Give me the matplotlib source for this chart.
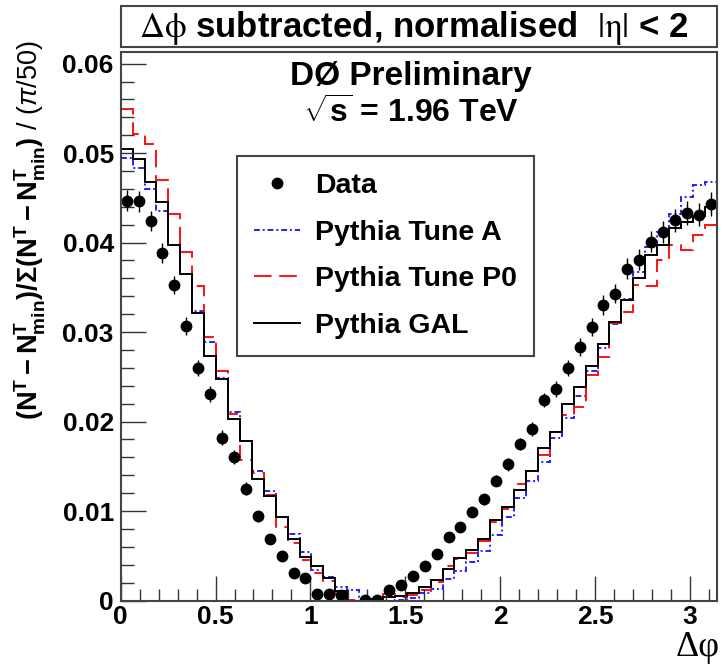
import numpy as np
import matplotlib
matplotlib.use('Agg')
from matplotlib import pyplot as plt
from matplotlib.ticker import MultipleLocator, FuncFormatter
from matplotlib.lines import Line2D
from matplotlib.patches import Rectangle

plt.rcParams['font.family'] = ['Liberation Sans', 'DejaVu Sans']
plt.rcParams['mathtext.fontset'] = 'custom'
plt.rcParams['mathtext.rm'] = 'Liberation Sans'
plt.rcParams['mathtext.bf'] = 'Liberation Sans:bold'
plt.rcParams['mathtext.it'] = 'Liberation Sans:italic'

# 50 bins in delta phi, width pi/50
nbins = 50
edges = np.linspace(0, np.pi, nbins + 1)
centers = 0.5 * (edges[:-1] + edges[1:])

data = [0.0447, 0.0446, 0.0424, 0.0388, 0.0353, 0.0307, 0.0260, 0.0231, 0.0182, 0.0160,
        0.0125, 0.0094, 0.0069, 0.0050, 0.0031, 0.0025, 0.00075, 0.0007, 0.0006, np.nan,
        0.0001, 0.0001, 0.0012, 0.0017, 0.0027, 0.0038, 0.0052, 0.0071, 0.0082, 0.0099,
        0.0113, 0.0134, 0.0152, 0.0175, 0.0192, 0.0224, 0.0236, 0.0260, 0.0283, 0.0306,
        0.0330, 0.0343, 0.0371, 0.0381, 0.0401, 0.0412, 0.0425, 0.0433, 0.0431, 0.0443]
data_err = [0.0012, 0.0012, 0.0011, 0.0011, 0.0010, 0.0010, 0.0009, 0.0009, 0.0008, 0.0008,
            0.0007, 0.0006, 0.0005, 0.0004, 0.0003, 0.0003, 0.0002, 0.0002, 0.0002, 0.0002,
            0.0002, 0.0002, 0.0002, 0.0003, 0.0003, 0.0003, 0.0004, 0.0004, 0.0005, 0.0005,
            0.0006, 0.0006, 0.0007, 0.0007, 0.0008, 0.0008, 0.0009, 0.0009, 0.0010, 0.0010,
            0.0011, 0.0011, 0.0012, 0.0012, 0.0012, 0.0012, 0.0013, 0.0013, 0.0013, 0.0013]

tune_a = [0.0495, 0.0483, 0.0460, 0.0435, 0.0397, 0.0365, 0.0323, 0.0289, 0.0249, 0.0211,
          0.0178, 0.0145, 0.0122, 0.0093, 0.0074, 0.0054, 0.0034, 0.0026, 0.0015, 0.0012,
          0.0000, 0.0000, 0.0000, 0.0001, 0.0003, 0.0008, 0.0013, 0.0024, 0.0033, 0.0043,
          0.0055, 0.0073, 0.0093, 0.0114, 0.0134, 0.0155, 0.0182, 0.0204, 0.0228, 0.0257,
          0.0282, 0.0309, 0.0337, 0.0367, 0.0395, 0.0412, 0.0432, 0.0451, 0.0464, 0.0468]

tune_p0 = [0.0549, 0.0521, 0.0510, 0.0470, 0.0432, 0.0390, 0.0352, 0.0295, 0.0257, 0.0208,
           0.0157, 0.0142, 0.0118, 0.0082, 0.0064, 0.0045, 0.0031, 0.0022, 0.0007, 0.0001,
           0.0000, 0.0002, 0.0007, 0.0004, 0.0006, 0.0012, 0.0021, 0.0038, 0.0046, 0.0053,
           0.0067, 0.0088, 0.0102, 0.0130, 0.0145, 0.0163, 0.0188, 0.0207, 0.0216, 0.0252,
           0.0272, 0.0310, 0.0322, 0.0353, 0.0351, 0.0381, 0.0397, 0.0392, 0.0408, 0.0420]

gal = [0.0505, 0.0493, 0.0468, 0.0445, 0.0397, 0.0365, 0.0321, 0.0273, 0.0248, 0.0203,
       0.0178, 0.0136, 0.0117, 0.0093, 0.0069, 0.0049, 0.0038, 0.0025, 0.0011, 0.0000,
       0.0000, 0.0002, 0.0004, 0.0005, 0.0008, 0.0015, 0.0023, 0.0035, 0.0047, 0.0056,
       0.0069, 0.0090, 0.0105, 0.0123, 0.0145, 0.0170, 0.0188, 0.0220, 0.0239, 0.0262,
       0.0287, 0.0311, 0.0336, 0.0360, 0.0386, 0.0397, 0.0416, 0.0423, 0.0430, 0.0440]

dashdot = (0, (3, 1.5, 1, 1.5))
dashed = (0, (9, 4))

W, H = 728, 664
fig = plt.figure(figsize=(W / 100, H / 100), dpi=100)
ax = fig.add_axes([120.7 / W, 1 - 600.5 / H, 596 / W, 548.5 / H])

ax.stairs(tune_a, edges, baseline=None, color='#2020ff', lw=1.4, linestyle=dashdot)
ax.stairs(tune_p0, edges, baseline=None, color='#ff1010', lw=1.4, linestyle=dashed)
ax.stairs(gal, edges, baseline=None, color='black', lw=1.4)
ax.errorbar(centers, data, yerr=data_err, fmt='o', color='black', ms=7.5, elinewidth=1, capsize=0)

ax.set_xlim(0, np.pi)
ax.set_ylim(0, 0.0613)
ax.xaxis.set_major_locator(MultipleLocator(0.5))
ax.xaxis.set_minor_locator(MultipleLocator(0.1))
ax.yaxis.set_major_locator(MultipleLocator(0.01))
ax.yaxis.set_minor_locator(MultipleLocator(0.002))
fmt = FuncFormatter(lambda v, p: '%g' % round(v, 4))
ax.xaxis.set_major_formatter(fmt)
ax.yaxis.set_major_formatter(fmt)
ax.tick_params(which='both', direction='in', top=False, right=False, width=1, color='#333333')
ax.tick_params(which='major', length=18, labelsize=19, pad=5)
ax.tick_params(axis='x', which='major', pad=3)
ax.tick_params(which='minor', length=9)
for lab in ax.get_xticklabels() + ax.get_yticklabels():
    lab.set_fontweight('bold')
for sp in ax.spines.values():
    sp.set_linewidth(1.5)
    sp.set_color('#444444')

fig.text(30 / W, 1 - 40 / H,
         r'$\mathbf{(N^{T} - N^{T}_{min})/\Sigma(N^{T} - N^{T}_{min})}$ / $(\pi/50)$',
         fontsize=19.5, rotation=90, ha='center', va='top')
fig.text(720 / W, 1 - 664 / H, 'Δφ', fontsize=26, family='Liberation Serif',
         ha='right', va='bottom')

# title box
fig.patches.append(Rectangle((120.7 / W, 1 - 47 / H), 596 / W, 41 / H, transform=fig.transFigure,
                             facecolor='white', edgecolor='#444444', lw=1.5))
fig.text(414 / W, 1 - 28 / H,
         r'$\Delta\mathrm{\phi}$ subtracted, normalised  $|\mathrm{\eta}|$ < 2',
         fontsize=25, fontweight='bold', ha='center', va='center', math_fontfamily='stix')

ax.text(0.487, 0.955, 'DØ Preliminary', transform=ax.transAxes, fontsize=24, fontweight='bold',
        ha='center', va='center')
ax.text(0.487, 0.888, r'$\sqrt{\mathbf{s}}$ = 1.96 TeV', transform=ax.transAxes, fontsize=23,
        fontweight='bold', ha='center', va='center')

handles = [Line2D([], [], marker='o', ls='none', color='black', ms=7.5),
           Line2D([], [], color='#2020ff', lw=1.4, linestyle=dashdot),
           Line2D([], [], color='#ff1010', lw=1.4, linestyle=dashed),
           Line2D([], [], color='black', lw=1.4)]
labels = ['Data', 'Pythia Tune A', 'Pythia Tune P0', 'Pythia GAL']
leg = fig.legend(handles, labels, loc='upper left', bbox_to_anchor=(237 / W, 1 - 156 / H),
                 prop={'weight': 'bold', 'size': 20.5}, frameon=True, fancybox=False,
                 edgecolor='#444444', framealpha=1, borderpad=0.6, labelspacing=0.72,
                 handlelength=1.6, handletextpad=0.55, borderaxespad=0)
leg.get_frame().set_linewidth(1.5)

fig.savefig('out.png', dpi=100)
